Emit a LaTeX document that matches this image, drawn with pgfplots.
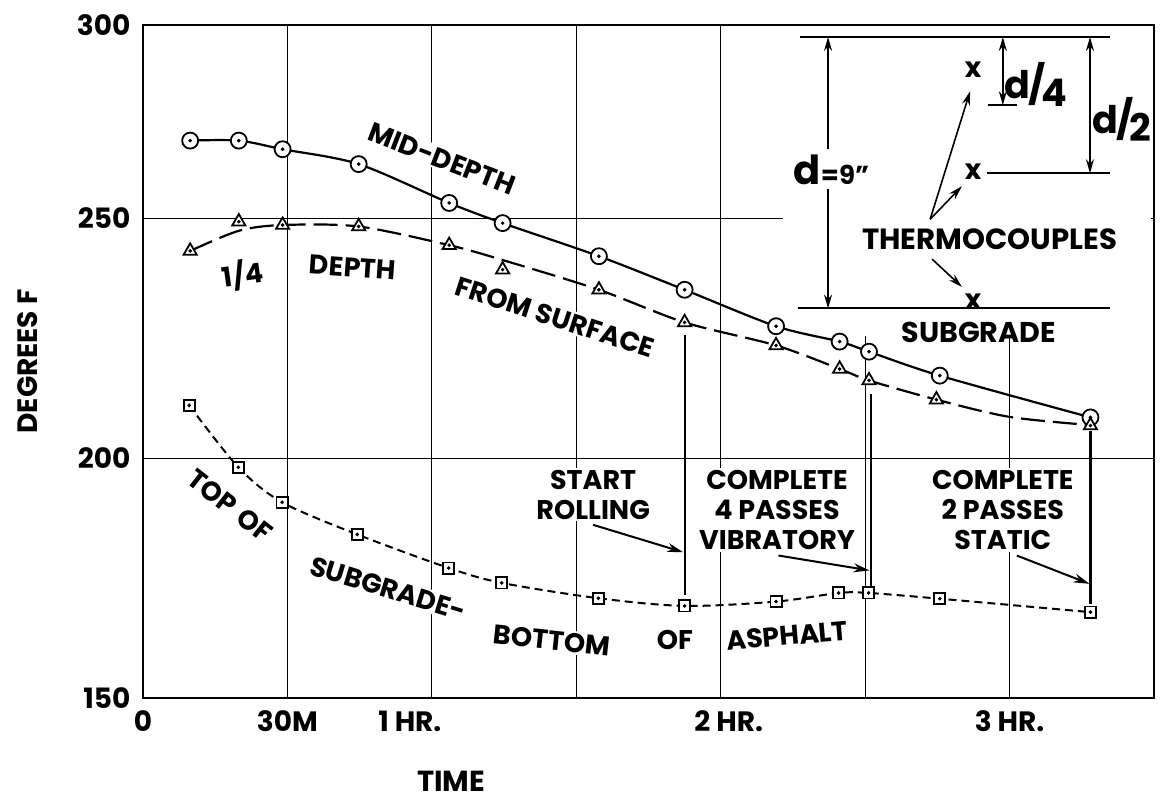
\documentclass[border=0pt]{standalone}
\usepackage{fontspec}
\setmainfont{Poppins}
\usepackage{pgfplots}
\usepackage{pgfplotstable}
\pgfplotsset{compat=1.18}
\usetikzlibrary{arrows.meta}

\pgfplotstableread{
x y
9.8 266.2
19.9 266.2
29 264.4
44.8 261.3
63.6 253.2
74.7 249.0
94.7 242.1
112.5 235.1
131.5 227.5
144.7 224.3
150.8 222.2
165.5 217.2
196.8 208.5
}\middata

\pgfplotstableread{
x y
9.8 243.2
19.9 249.3
29 248.6
44.8 248.3
63.6 244.4
74.7 239.3
94.7 235.1
112.5 228.3
131.5 223.5
144.7 218.6
150.8 216.2
164.8 212.2
196.8 206.8
}\quartermarks

\pgfplotstableread{
x y
9.8 243.2
19.9 247.4
29 248.6
44.8 248.3
63.6 244.4
74.7 241.3
94.7 235.1
112.5 228.3
131.5 223.5
144.7 218.6
150.8 216.2
164.8 212.2
180 208.6
196.8 206.9
}\quartercurve

\pgfplotstableread{
x y
9.6 211.0
19.8 198.1
28.9 190.8
44.5 184.1
63.5 177.1
74.5 174.0
94.6 170.8
112.5 169.2
131.5 170.1
144.5 171.9
150.7 171.9
165.5 170.7
196.8 167.9
}\subdata

\tikzset{
  lab/.style={font=\bfseries\fontsize{13.5}{15}\selectfont, fill=white, inner sep=1pt, align=center},
  arr/.style={-{Stealth[length=8pt,width=4.5pt]}, line width=1pt},
  thin arr/.style={line width=0.8pt},
}

\begin{document}
\begin{tikzpicture}
\begin{axis}[
  at={(0,0)}, anchor=south west,
  scale only axis, width=505.5pt, height=336.5pt,
  xmin=0, xmax=210, ymin=150, ymax=290.3,
  xtick={0,30,60,90,120,150,180,210},
  xticklabels={0,30M,{1 HR.\hspace*{22pt}},,{\hspace*{8pt}2 HR.},,3 HR.,},
  ytick={150,200,250,290.3},
  yticklabels={150,200,250,300},
  grid=major,
  grid style={black, line width=0.6pt},
  major tick length=0pt,
  axis line style={line width=1.2pt},
  tick label style={font=\bfseries\fontsize{14}{14}\selectfont},
  xticklabel style={yshift=-2.8pt},
  yticklabel style={xshift=-2.8pt},
  clip=false,
]
% inset background hides grid
\fill[white] (axis cs:133,225.5) rectangle (axis cs:209.4,290.0);

% axis titles
\node[rotate=90, font=\bfseries\fontsize{14}{14}\selectfont] at (rel axis cs:-0.1137,0.5) {DEGREES F};
\node[font=\bfseries\fontsize{14.5}{14.5}\selectfont] at (rel axis cs:0.3047,-0.124) {TIME};

% curve labels
\node[lab, rotate=-21] at (axis cs:62.1,262.4) {MID-DEPTH};
\node[lab, rotate=8] at (axis cs:20.7,238.2) {1/4};
\node[lab, rotate=-4] at (axis cs:43.6,239.8) {DEPTH};
\node[lab, rotate=-18] at (axis cs:85.6,229.4) {FROM SURFACE};
\node[lab, rotate=-38] at (axis cs:18.1,190.1) {TOP\,\,OF};
\node[lab, rotate=-17] at (axis cs:50.9,172.8) {SUBGRADE-};
\node[lab, rotate=-6] at (axis cs:84.9,162.0) {BOTTOM};
\node[lab] at (axis cs:110.5,162.0) {OF};
\node[lab, rotate=5] at (axis cs:133.8,163.0) {ASPHALT};

% event annotations
\node[lab] at (axis cs:93.5,192.4) {START\\ROLLING};
\node[lab] at (axis cs:131.7,189.2) {COMPLETE\\4 PASSES\\VIBRATORY};
\node[lab] at (axis cs:178.6,189.2) {COMPLETE\\2 PASSES\\STATIC};
\draw[line width=1.1pt] (axis cs:112.5,225.6) -- (axis cs:112.5,171.4);
\draw[line width=1.1pt] (axis cs:151.2,213.4) -- (axis cs:151.2,172.9);
\draw[line width=1.1pt] (axis cs:196.8,205.7) -- (axis cs:196.8,169.6);
\draw[arr] (axis cs:93.5,186.1) -- (axis cs:112.2,180.4);
\draw[arr] (axis cs:132.0,179.7) -- (axis cs:150.9,176.6);
\draw[arr] (axis cs:181.5,179.7) -- (axis cs:196.6,173.8);

% inset diagram
\draw[line width=1pt] (axis cs:136.5,287.8) -- (axis cs:200.8,287.8);
\draw[line width=1pt] (axis cs:136.0,231.2) -- (axis cs:200.8,231.2);
\draw[line width=1pt] (axis cs:175.3,259.4) -- (axis cs:200.8,259.4);
\draw[line width=1pt] (axis cs:175.5,273.6) -- (axis cs:181.5,273.6);
\draw[thin arr, -{Stealth[length=7pt,width=4pt]}] (axis cs:142.3,264.4) -- (axis cs:142.3,287.8);
\draw[thin arr, -{Stealth[length=7pt,width=4pt]}] (axis cs:142.3,256.1) -- (axis cs:142.3,231.2);
\draw[thin arr, {Stealth[length=7pt,width=4pt]}-{Stealth[length=7pt,width=4pt]}] (axis cs:178.6,287.8) -- (axis cs:178.6,273.6);
\draw[thin arr, {Stealth[length=7pt,width=4pt]}-{Stealth[length=7pt,width=4pt]}] (axis cs:196.7,287.8) -- (axis cs:196.7,259.4);
\node[font=\bfseries, inner sep=0pt] at (axis cs:143.0,260.1) {{\fontsize{20}{20}\selectfont d}{\fontsize{13}{13}\selectfont =9''}};
\node[font=\bfseries, inner sep=0pt] at (axis cs:185.5,278.0) {{\fontsize{19}{19}\selectfont d\kern-1pt/\kern-2pt\raisebox{-4pt}{4}}};
\node[font=\bfseries, inner sep=0pt] at (axis cs:203.3,270.7) {{\fontsize{19}{19}\selectfont d\kern-1pt/\kern-2pt\raisebox{-4pt}{2}}};
\node[font=\bfseries\fontsize{14}{14}\selectfont, inner sep=0pt] at (axis cs:172.4,281.0) {x};
\node[font=\bfseries\fontsize{14}{14}\selectfont, inner sep=0pt] at (axis cs:172.4,259.7) {x};
\node[font=\bfseries\fontsize{14}{14}\selectfont, inner sep=0pt] at (axis cs:172.4,232.7) {x};
\draw[thin arr, -{Stealth[length=7pt,width=4pt]}] (axis cs:163.5,249.8) -- (axis cs:171.8,276.5);
\draw[thin arr, -{Stealth[length=7pt,width=4pt]}] (axis cs:163.5,249.8) -- (axis cs:170.1,256.7);
\draw[thin arr, -{Stealth[length=7pt,width=4pt]}] (axis cs:163.9,241.5) -- (axis cs:170.1,235.7);
\node[font=\bfseries\fontsize{14.6}{14.6}\selectfont] at (axis cs:175.9,245.7) {THERMOCOUPLES};
\node[font=\bfseries\fontsize{14.3}{14.3}\selectfont] at (axis cs:173.6,226.3) {SUBGRADE};

% data curves
\addplot[black, line width=1.1pt, smooth, tension=0.5] table {\middata};
\addplot[black, line width=1.1pt, smooth, tension=0.5, dash pattern=on 12pt off 4pt] table {\quartercurve};
\addplot[black, line width=1.0pt, smooth, tension=0.5, dash pattern=on 4pt off 2.5pt] table {\subdata};

% markers
\addplot[only marks, mark=*, mark size=4pt, mark options={solid, fill=white, draw=black, line width=0.9pt}] table {\middata};
\addplot[only marks, mark=*, mark size=0.7pt, mark options={fill=black}] table {\middata};
\addplot[only marks, mark=triangle*, mark size=3.8pt, mark options={solid, fill=white, draw=black, line width=0.9pt}] table {\quartermarks};
\addplot[only marks, mark=*, mark size=0.7pt, mark options={fill=black}] table {\quartermarks};
\addplot[only marks, mark=square*, mark size=2.8pt, mark options={solid, fill=white, draw=black, line width=0.9pt}] table {\subdata};
\addplot[only marks, mark=*, mark size=0.7pt, mark options={fill=black}] table {\subdata};
\end{axis}
\pgfresetboundingbox
\useasboundingbox (-71.5pt,-51pt) rectangle (509pt,349pt);
\end{tikzpicture}
\end{document}
